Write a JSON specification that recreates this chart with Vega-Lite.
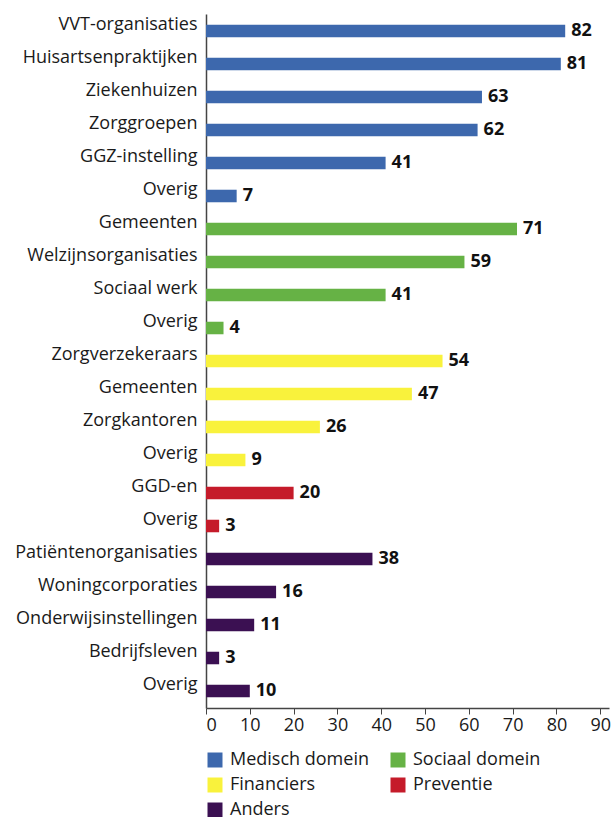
{
  "$schema": "https://vega.github.io/schema/vega-lite/v6.json",
  "width": 403,
  "height": 694,
  "padding": {"left": 14, "top": 14, "right": 0, "bottom": 0},
  "background": "white",
  "config": {
    "view": {"stroke": null},
    "font": "Open Sans"
  },
  "data": {
    "values": [
      {"id": "01|VVT-organisaties", "value": 82, "groep": "Medisch domein"},
      {"id": "02|Huisartsenpraktijken", "value": 81, "groep": "Medisch domein"},
      {"id": "03|Ziekenhuizen", "value": 63, "groep": "Medisch domein"},
      {"id": "04|Zorggroepen", "value": 62, "groep": "Medisch domein"},
      {"id": "05|GGZ-instelling", "value": 41, "groep": "Medisch domein"},
      {"id": "06|Overig", "value": 7, "groep": "Medisch domein"},
      {"id": "07|Gemeenten", "value": 71, "groep": "Sociaal domein"},
      {"id": "08|Welzijnsorganisaties", "value": 59, "groep": "Sociaal domein"},
      {"id": "09|Sociaal werk", "value": 41, "groep": "Sociaal domein"},
      {"id": "10|Overig", "value": 4, "groep": "Sociaal domein"},
      {"id": "11|Zorgverzekeraars", "value": 54, "groep": "Financiers"},
      {"id": "12|Gemeenten", "value": 47, "groep": "Financiers"},
      {"id": "13|Zorgkantoren", "value": 26, "groep": "Financiers"},
      {"id": "14|Overig", "value": 9, "groep": "Financiers"},
      {"id": "15|GGD-en", "value": 20, "groep": "Preventie"},
      {"id": "16|Overig", "value": 3, "groep": "Preventie"},
      {"id": "17|Patiëntenorganisaties", "value": 38, "groep": "Anders"},
      {"id": "18|Woningcorporaties", "value": 16, "groep": "Anders"},
      {"id": "19|Onderwijsinstellingen", "value": 11, "groep": "Anders"},
      {"id": "20|Bedrijfsleven", "value": 3, "groep": "Anders"},
      {"id": "21|Overig", "value": 10, "groep": "Anders"}
    ]
  },
  "encoding": {
    "y": {
      "field": "id",
      "type": "nominal",
      "sort": "ascending",
      "scale": {"paddingInner": 0.62, "paddingOuter": 0.325},
      "axis": {
        "title": null,
        "ticks": false,
        "labelExpr": "split(datum.value, '|')[1]",
        "labelFontSize": 18,
        "labelColor": "#1a1a1a",
        "labelPadding": 9,
        "labelBaseline": "middle",
        "labelOffset": -6,
        "domainColor": "#444",
        "domainWidth": 1.5,
        "labelLimit": 250
      }
    }
  },
  "layer": [
    {
      "mark": {"type": "bar"},
      "encoding": {
        "x": {
          "field": "value",
          "type": "quantitative",
          "scale": {"domain": [0, 92], "nice": false},
          "axis": {
            "title": null,
            "values": [0, 10, 20, 30, 40, 50, 60, 70, 80, 90],
            "grid": false,
            "labelFontSize": 18,
            "labelColor": "#1a1a1a",
            "domainColor": "#444",
            "domainWidth": 1.5,
            "tickColor": "#444",
            "tickSize": 6,
            "labelPadding": 2
          }
        },
        "color": {
          "field": "groep",
          "type": "nominal",
          "scale": {
            "domain": ["Medisch domein", "Sociaal domein", "Financiers", "Preventie", "Anders"],
            "range": ["#3d68ad", "#66b245", "#f9f23c", "#c51b2a", "#3b1052"]
          },
          "legend": {
            "title": null,
            "orient": "bottom",
            "direction": "horizontal",
            "columns": 2,
            "symbolType": "square",
            "symbolSize": 225,
            "symbolStrokeWidth": 0,
            "labelFontSize": 18,
            "labelColor": "#1a1a1a",
            "columnPadding": 20,
            "rowPadding": 7,
            "offset": 17,
            "labelOffset": 6
          }
        }
      }
    },
    {
      "mark": {"type": "text", "align": "left", "baseline": "middle", "dx": 6, "fontWeight": "bold", "fontSize": 18, "color": "#111"},
      "encoding": {
        "x": {"field": "value", "type": "quantitative"},
        "text": {"field": "value", "type": "quantitative"}
      }
    }
  ]
}
